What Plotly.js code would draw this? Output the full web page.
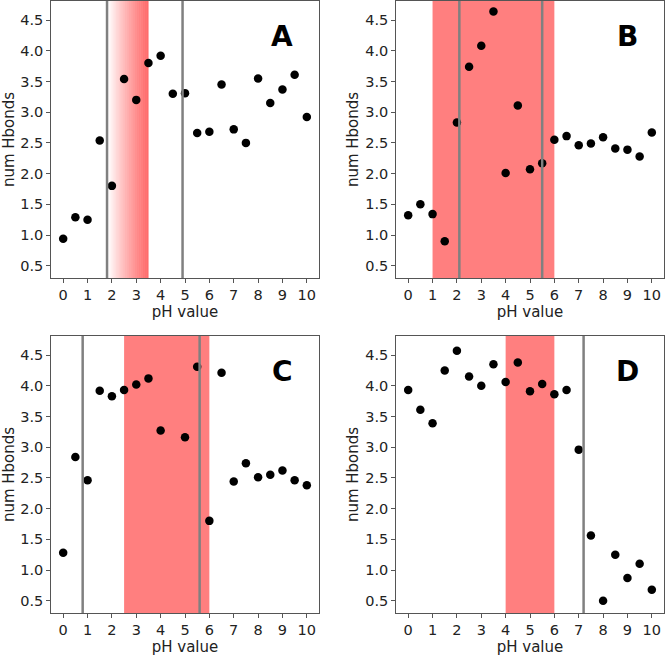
<!DOCTYPE html>
<html>
<head>
<meta charset="utf-8">
<script src="https://cdn.plot.ly/plotly-3.0.1.min.js"></script>
<style>html,body{margin:0;padding:0;background:#fff;}#chart{width:666px;height:656px;}</style>
</head>
<body>
<div id="chart"></div>
<script>
// ---- data ----
const pH = [0,0.5,1,1.5,2,2.5,3,3.5,4,4.5,5,5.5,6,6.5,7,7.5,8,8.5,9,9.5,10];
const hbondsA = [0.94,1.29,1.25,2.54,1.80,3.54,3.20,3.80,3.92,3.30,3.31,2.66,2.68,3.45,2.72,2.50,3.55,3.15,3.37,3.61,2.92];
const hbondsB = [1.32,1.50,1.34,0.90,2.83,3.74,4.08,4.64,2.01,3.11,2.07,2.17,2.55,2.61,2.46,2.49,2.59,2.41,2.39,2.28,2.67];
const hbondsC = [1.28,2.84,2.46,3.92,3.83,3.93,4.02,4.12,3.27,null,3.16,4.31,1.80,4.21,2.44,2.74,2.51,2.55,2.62,2.46,2.38];
const hbondsD = [3.93,3.61,3.39,4.25,4.57,4.15,4.00,4.35,4.06,4.38,3.91,4.03,3.86,3.93,2.96,1.56,0.50,1.25,0.87,1.10,0.68];
const panelLabels = ['A','B','C','D'];
const vlinesA = [1.8, 4.9];
const vlinesB = [2.1, 5.5];
const vlinesC = [0.8, 5.6];
const vlinesD = [7.2];
const gradientA = [1.85, 3.5];   // fading band (white -> red)
const bandB = [1, 6];
const bandC = [2.5, 6];
const bandD = [4, 6];
const xTicks = [0,1,2,3,4,5,6,7,8,9,10];
const yTicks = [0.5,1.0,1.5,2.0,2.5,3.0,3.5,4.0,4.5];

const series = [hbondsA, hbondsB, hbondsC, hbondsD];
const vlines = [vlinesA, vlinesB, vlinesC, vlinesD];
const bands = [null, bandB, bandC, bandD];

const W = 666, H = 656;
const xDom = [[51/W, 319/W],[396/W, 664/W],[51/W, 319/W],[396/W, 664/W]];
const yDom = [[1-278/H, 1-1/H],[1-278/H, 1-1/H],[1-613/H, 1-336/H],[1-613/H, 1-336/H]];

const font = 'DejaVu Sans, sans-serif';
const traces = [];
const shapes = [];
const annotations = [];
const layout = {
  width: W, height: H,
  margin: {l:0, r:0, t:0, b:0},
  paper_bgcolor: '#fff', plot_bgcolor: '#fff',
  showlegend: false,
  font: {family: font, size: 14, color: '#222'}
};

for (let i = 0; i < 4; i++) {
  const sfx = i === 0 ? '' : String(i+1);
  const xa = 'x' + sfx, ya = 'y' + sfx;
  traces.push({
    x: pH, y: series[i], type: 'scatter', mode: 'markers',
    xaxis: xa, yaxis: ya,
    marker: {color: '#000', size: 8.5},
    hoverinfo: 'skip'
  });
  layout['xaxis' + sfx] = {
    domain: xDom[i], anchor: ya, range: [-0.5, 10.5],
    tickmode: 'array', tickvals: xTicks, ticktext: xTicks.map(String),
    showgrid: false, zeroline: false,
    showline: true, mirror: true, linecolor: '#555', linewidth: 1.3,
    ticks: 'outside', ticklen: 3.5, tickcolor: '#555', tickwidth: 1,
    tickfont: {family: font, size: 14.5, color: '#222'},
    title: {text: 'pH value', font: {family: font, size: 15, color: '#222'}, standoff: 4}
  };
  layout['yaxis' + sfx] = {
    domain: yDom[i], anchor: xa, range: [0.30, 4.81],
    tickmode: 'array', tickvals: yTicks, ticktext: yTicks.map(v => v.toFixed(1)),
    showgrid: false, zeroline: false,
    showline: true, mirror: true, linecolor: '#555', linewidth: 1.3,
    ticks: 'outside', ticklen: 3.5, tickcolor: '#555', tickwidth: 1,
    tickfont: {family: font, size: 14.5, color: '#222'},
    title: {text: 'num Hbonds', font: {family: font, size: 15, color: '#222'}, standoff: 3}
  };
  if (bands[i]) {
    shapes.push({type: 'rect', xref: xa, yref: ya + ' domain', x0: bands[i][0], x1: bands[i][1], y0: 0, y1: 1,
      fillcolor: 'rgba(255,0,0,0.5)', line: {width: 0}, layer: 'below'});
  }
  vlines[i].forEach(v => shapes.push({type: 'line', xref: xa, yref: ya + ' domain', x0: v, x1: v, y0: 0, y1: 1,
    line: {color: '#808080', width: 2.5}, layer: 'above'}));
  annotations.push({text: '<b>' + panelLabels[i] + '</b>', xref: xa, yref: ya, x: 9, y: 4.24,
    showarrow: false, font: {family: font, size: 28, color: '#000'}});
}

// gradient band for panel A
const N = 60;
const gw = (gradientA[1] - gradientA[0]) / N;
for (let k = 0; k < N; k++) {
  const a = 0.78 * (k + 0.5) / N;
  shapes.push({type: 'rect', xref: 'x', yref: 'y domain', x0: gradientA[0] + k*gw, x1: gradientA[0] + (k+1)*gw + 0.001,
    y0: 0, y1: 1, fillcolor: 'rgba(255,30,30,' + a.toFixed(3) + ')', line: {width: 0}, layer: 'below'});
}

layout.shapes = shapes;
layout.annotations = annotations;
Plotly.newPlot('chart', traces, layout, {staticPlot: true});
</script>
</body>
</html>
